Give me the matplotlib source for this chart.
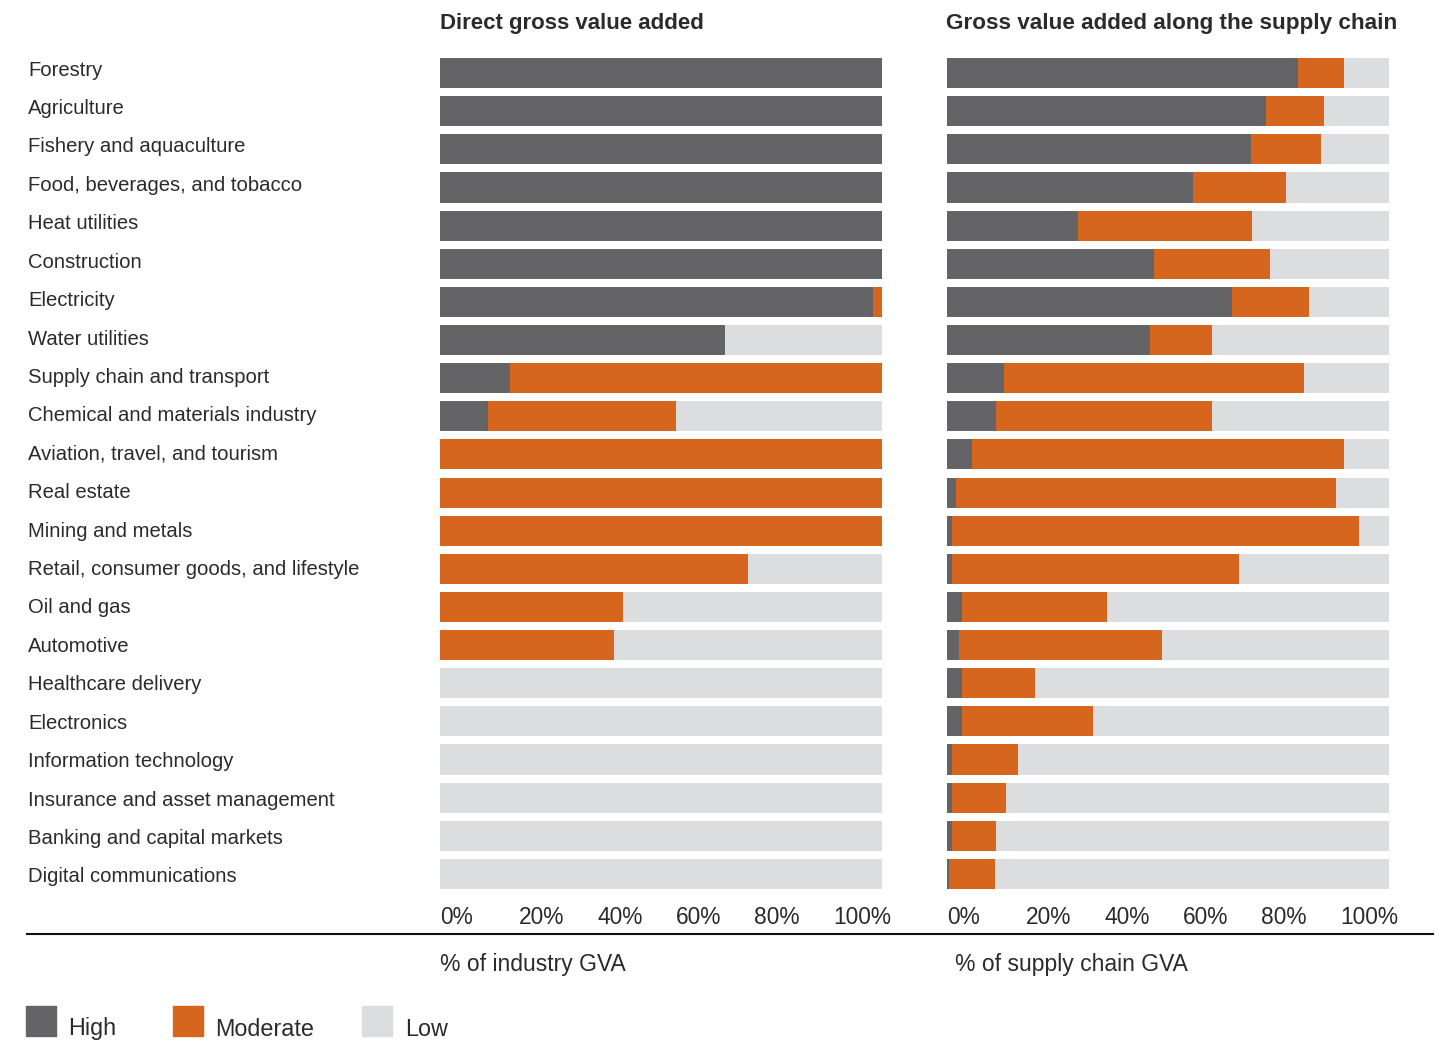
import matplotlib
matplotlib.use("Agg")
import matplotlib.pyplot as plt
from matplotlib.patches import Rectangle
import matplotlib.transforms as mtransforms
import numpy as np

plt.rcParams['font.family'] = ['Liberation Sans', 'DejaVu Sans']

categories = [
    "Forestry", "Agriculture", "Fishery and aquaculture", "Food, beverages, and tobacco",
    "Heat utilities", "Construction", "Electricity", "Water utilities",
    "Supply chain and transport", "Chemical and materials industry",
    "Aviation, travel, and tourism", "Real estate", "Mining and metals",
    "Retail, consumer goods, and lifestyle", "Oil and gas", "Automotive",
    "Healthcare delivery", "Electronics", "Information technology",
    "Insurance and asset management", "Banking and capital markets",
    "Digital communications",
]

# Direct gross value added (% of industry GVA)
direct_high = [100, 100, 100, 100, 100, 100, 98.0, 64.5, 15.8, 10.9, 0, 0, 0, 0, 0, 0, 0, 0, 0, 0, 0, 0]
direct_moderate = [0, 0, 0, 0, 0, 0, 2.0, 0, 84.2, 42.5, 100, 100, 100, 69.7, 41.4, 39.4, 0, 0, 0, 0, 0, 0]

# Gross value added along the supply chain (% of supply chain GVA)
chain_high = [79.4, 72.2, 68.8, 55.7, 29.6, 46.8, 64.5, 45.9, 12.9, 11.1, 5.7, 2.0, 1.1, 1.1, 3.4, 2.7,
              3.4, 3.4, 1.1, 1.1, 1.1, 0.5]
chain_moderate = [10.4, 13.1, 15.8, 21.0, 39.4, 26.3, 17.4, 14.1, 67.9, 48.9, 84.1, 86.0, 92.1, 65.0,
                  32.8, 45.9, 16.5, 29.6, 15.0, 12.2, 10.0, 10.4]

tick_labels = ["0%", "20%", "40%", "60%", "80%", "100%"]
legend_labels = ["High", "Moderate", "Low"]
panel_titles = ["Direct gross value added", "Gross value added along the supply chain"]
axis_labels = ["% of industry GVA", "% of supply chain GVA"]

C_HIGH = "#646466"
C_MOD = "#D6651D"
C_LOW = "#DCDDDF"
TXT = "#2b2b2b"

W, H = 1439, 1040
fig = plt.figure(figsize=(W / 100, H / 100), dpi=100)

def fx(px):
    return px / W

def fy(py):
    return 1 - py / H

ax_bottom = fy(893)
ax_h = (893 - 54) / H
axL = fig.add_axes([fx(440), ax_bottom, fx(442), ax_h])
axR = fig.add_axes([fx(947), ax_bottom, fx(442), ax_h])

y = np.arange(len(categories))
bh = 0.79
for ax, hi, mo in [(axL, direct_high, direct_moderate), (axR, chain_high, chain_moderate)]:
    hi = np.array(hi)
    mo = np.array(mo)
    lo = 100 - hi - mo
    ax.barh(y, hi, height=bh, color=C_HIGH, linewidth=0)
    ax.barh(y, mo, left=hi, height=bh, color=C_MOD, linewidth=0)
    ax.barh(y, lo, left=hi + mo, height=bh, color=C_LOW, linewidth=0)
    ax.set_xlim(0, 100)
    ax.set_ylim(len(categories) - 0.5, -0.5)
    for s in ax.spines.values():
        s.set_visible(False)
    ax.set_xticks([])
    ax.set_yticks([])

# Category labels in their own (invisible) axis, spaced slightly wider than the bars as in the original
lab_top, lab_bot = 50.8, 896.2
axLab = fig.add_axes([fx(28), fy(lab_bot), fx(380), (lab_bot - lab_top) / H])
axLab.set_ylim(len(categories) - 0.5, -0.5)
axLab.set_xlim(0, 1)
axLab.axis('off')
for yi, cat in zip(y, categories):
    axLab.text(0, yi, cat, fontsize=14.6, color=TXT, ha='left', va='center', clip_on=False)

# Titles
fig.text(fx(440), fy(23), panel_titles[0], fontsize=16, fontweight='bold', color=TXT, va='center', ha='left')
fig.text(fx(946), fy(23), panel_titles[1], fontsize=16.2, fontweight='bold', color=TXT, va='center', ha='left')

# Tick labels (evenly spaced, left aligned)
for x0 in (440, 947):
    for i, t in enumerate(tick_labels):
        fig.text(fx(x0 + i * 78.6), fy(918), t, fontsize=16.4, color=TXT, va='center', ha='left')

# Horizontal rule
fig.add_artist(plt.Line2D([fx(27), fx(1433)], [fy(934), fy(934)], color='#111111', linewidth=1.5))

# Axis labels
fig.text(fx(440), fy(965), axis_labels[0], fontsize=16.5, color=TXT, va='center', ha='left')
fig.text(fx(955), fy(965), axis_labels[1], fontsize=16.5, color=TXT, va='center', ha='left')

# Legend
leg_colors = [C_HIGH, C_MOD, C_LOW]
leg_x = [26, 173, 362]
leg_tx = [68, 215, 405]
for c, lx, tx, lab in zip(leg_colors, leg_x, leg_tx, legend_labels):
    fig.add_artist(Rectangle((fx(lx), fy(1036)), fx(30), 30 / H, color=c, transform=fig.transFigure))
    fig.text(fx(tx), fy(1029), lab, fontsize=16.8, color=TXT, va='center', ha='left')

fig.savefig("out.png", dpi=100)
